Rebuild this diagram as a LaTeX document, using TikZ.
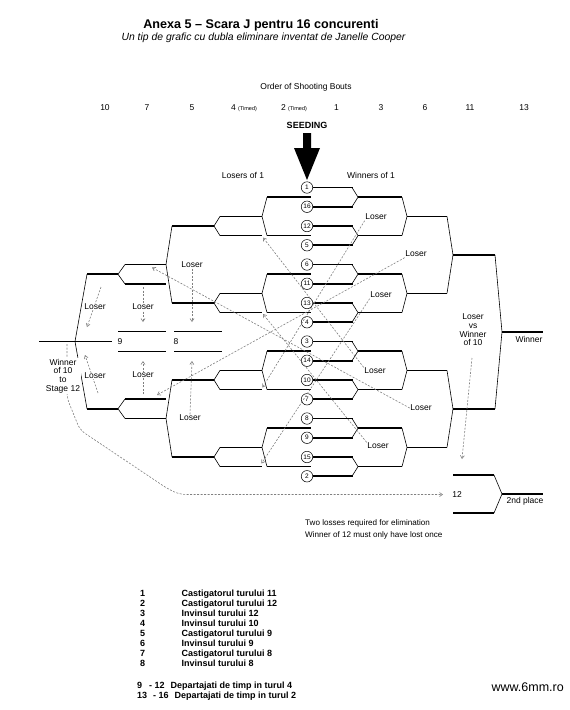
\documentclass[tikz,border=0pt]{standalone}
\usepackage{fontspec}
\setmainfont{Liberation Sans}
\usetikzlibrary{arrows.meta,calc}
\begin{document}
\begin{tikzpicture}[x=1pt,y=-1pt,
  hl/.style={line width=1.7pt},
  cn/.style={line width=0.6pt},
  ls/.style={draw=black!50, dash pattern=on 2pt off 1.5pt, line width=0.6pt, -{Straight Barb[length=3pt,width=4pt]}},
  lbl/.style={font=\fontsize{8.5}{8.7}\selectfont, inner sep=0.5pt},
  lblw/.style={lbl, fill=white, align=center},
  seed/.style={circle, draw, line width=0.5pt, minimum size=11.5pt, inner sep=0pt, fill=white, font=\fontsize{6.5}{7}\selectfont},
  key/.style={font=\fontsize{9}{9.5}\selectfont\bfseries, anchor=base west, inner sep=0pt},
  ]
\fill[white] (0,0) rectangle (570,710);
\useasboundingbox (0,0) rectangle (570,710);

% titles
\node[font=\fontsize{12.6}{14}\selectfont\bfseries] (title) at (261,25) {Anexa 5 -- Scara J pentru 16 concurenti};
\node[font=\fontsize{10.4}{12}\selectfont\itshape] (subtitle) at (263.5,38) {Un tip de grafic cu dubla eliminare inventat de Janelle Cooper};
\node[lbl] (order) at (306,87) {Order of Shooting Bouts};
\node[lbl] (h10) at (105,108) {10};
\node[lbl] (h7) at (147,108) {7};
\node[lbl] (h5) at (192,108) {5};
\node[lbl] (h4) at (244,108) {4 {\fontsize{5.5}{6}\selectfont(Timed)}};
\node[lbl] (h2) at (294,108) {2 {\fontsize{5.5}{6}\selectfont(Timed)}};
\node[lbl] (h1) at (336.5,108) {1};
\node[lbl] (h3) at (381,108) {3};
\node[lbl] (h6) at (425,108) {6};
\node[lbl] (h11) at (470,108) {11};
\node[lbl] (h13) at (524,108) {13};
\node[font=\fontsize{9}{10}\selectfont\bfseries] (seeding) at (307,125) {SEEDING};
\fill (303,133) -- (311,133) -- (311,148) -- (320,148) -- (307,180) -- (294,148) -- (303,148) -- cycle;
\node[lbl] (losers1) at (243,175) {Losers of 1};
\node[lbl] (winners1) at (371,175) {Winners of 1};

% seeds
\foreach \n [count=\i from 0] in {1,16,12,5,6,11,13,4,3,14,10,7,8,9,15,2}{
  \pgfmathsetmacro\yy{187.5+19.25*\i}
  \node[seed] (s\n) at (307,\yy) {\n};
  \draw[hl] (s\n.east) -- ++(39.5,0);
}
% bout 1 -> 3 (right) and bout 2 lines (left)
\foreach \k in {0,...,7}{
  \pgfmathsetmacro\ya{187.5+38.5*\k}
  \pgfmathsetmacro\yb{\ya+19.25}
  \pgfmathsetmacro\ym{\ya+9.625}
  \draw[cn] (352,\ya) -- (358,\ym) -- (352,\yb);
  \draw[hl] (358,\ym) -- (402,\ym);
  \draw[hl] (267,\ym) -- (311,\ym);
}
% bout 3 -> 6 (right), bout 2 -> 4 -> 5 (left)
\foreach \j in {0,...,3}{
  \pgfmathsetmacro\ya{197.125+77*\j}
  \pgfmathsetmacro\yb{\ya+38.5}
  \pgfmathsetmacro\ym{\ya+19.25}
  \pgfmathsetmacro\yq{(\ym+\yb)/2}
  \draw[cn] (402,\ya) -- (407,\ym) -- (402,\yb);
  \draw[hl] (407,\ym) -- (447,\ym);
  \draw[cn] (267,\ya) -- (262,\ym) -- (267,\yb);
  \draw[hl] (220,\ym) -- (262,\ym);
  \draw[hl] (220,\yb) -- (262,\yb);
  \draw[cn] (220,\ym) -- (214,\yq) -- (220,\yb);
  \draw[hl] (172,\yq) -- (214,\yq);
}
% bout 6 -> 11
\foreach \j in {0,1}{
  \pgfmathsetmacro\ya{216.375+154*\j}
  \pgfmathsetmacro\yb{\ya+77}
  \pgfmathsetmacro\ym{\ya+38.5}
  \draw[cn] (447,\ya) -- (453,\ym) -- (447,\yb);
  \draw[hl] (453,\ym) -- (495,\ym);
}
\draw[cn] (495,254.875) -- (502,331.875) -- (495,408.875);
\draw[hl] (502,331.875) -- (543,331.875);
\node[lbl] (winner) at (529,339.5) {Winner};

% bout 5 -> 7 -> 10 (left)
\draw[cn] (172,226) -- (166,264.5) -- (172,303);
\draw[cn] (172,380) -- (166,418.5) -- (172,457);
\draw[hl] (125,264.5) -- (166,264.5);
\draw[hl] (125,284) -- (166,284);
\draw[cn] (125,264.5) -- (118,274.25) -- (125,284);
\draw[hl] (125,399) -- (166,399);
\draw[hl] (125,418.5) -- (166,418.5);
\draw[cn] (125,399) -- (118,408.75) -- (125,418.5);
\draw[hl] (87,274.25) -- (118,274.25);
\draw[hl] (87,408.75) -- (118,408.75);
\draw[cn] (87,274.25) -- (75,341.5) -- (87,408.75);
\draw[hl] (39,341.5) -- (112,341.5);

% bouts 9 and 8
\draw[hl] (118,331.5) -- (166,331.5);
\draw[hl] (118,351.5) -- (166,351.5);
\node[lbl, anchor=west] (n9) at (117,341.5) {9};
\draw[hl] (174,331.5) -- (222,331.5);
\draw[hl] (174,351.5) -- (222,351.5);
\node[lbl, anchor=west] (n8) at (173,341.5) {8};

% bout 12
\draw[hl] (453,475) -- (494,475);
\draw[hl] (453,513) -- (494,513);
\draw[cn] (494,475) -- (502,494) -- (494,513);
\draw[hl] (502,494) -- (543,494);
\node[lbl] (n12) at (457,494.5) {12};
\node[lbl] (second) at (525,501) {2nd place};

% loser labels (right)
\node[lbl] (lA) at (376,217) {Loser};
\node[lbl] (lB) at (381,295) {Loser};
\node[lbl] (lC) at (375,371) {Loser};
\node[lbl] (lD) at (378,446) {Loser};
\node[lbl] (lE) at (416,254) {Loser};
\node[lbl] (lF) at (421,408) {Loser};
\coordinate (t1) at (263,237.5);
\coordinate (t2) at (263,314);
\coordinate (t3) at (262.5,387.5);
\coordinate (t4) at (261.5,463.5);
\coordinate (t5) at (152,267.5);
\coordinate (t6) at (157,395);
\draw[ls] (lA.south west) -- (t3);
\draw[ls] (lB.south west) -- (t4);
\draw[ls] (lC.north west) -- (t1);
\draw[ls] (lD.north west) -- (t2);
\draw[ls] (lE.south west) -- (t6);
\draw[ls] (lF.west) -- (t5);

% loser labels (left)
\node[lbl] (lG) at (192,265) {Loser};
\coordinate (tG) at (192,322);
\draw[ls] (lG.south) -- (tG);
\node[lbl] (lH) at (190,418) {Loser};
\coordinate (tH) at (192,361);
\draw[ls] (lH.north) -- (tH);
\coordinate (sI) at (143,287);
\coordinate (tI) at (143,322);
\draw[ls] (sI) -- (tI);
\node[lblw] (lI) at (143,307) {Loser};
\coordinate (sJ) at (143,394);
\coordinate (tJ) at (143,361);
\draw[ls] (sJ) -- (tJ);
\node[lblw] (lJ) at (143,375) {Loser};
\coordinate (sK) at (101,287);
\coordinate (tK) at (87,327);
\draw[ls] (sK) -- (tK);
\node[lblw] (lK) at (95,307) {Loser};
\coordinate (sL) at (98,393);
\coordinate (tL) at (85,355);
\draw[ls] (sL) -- (tL);
\node[lblw] (lL) at (95,376) {Loser};

% winner of 10 path
\coordinate (sW) at (67,344);
\coordinate (tW) at (443,494.5);
\draw[ls, rounded corners=6pt] (sW) -- (67,398) -- (80,430) -- (168,489) -- (180,494.5) -- (tW);
\node[lblw] (lW) at (63,376) {Winner\\of 10\\to\\Stage 12};

% loser vs winner of 10
\node[lbl, align=center] (lV) at (473,330) {Loser\\vs\\Winner\\of 10};
\coordinate (sV) at (472,358);
\coordinate (tV) at (462,459);
\draw[ls] (sV) -- (tV);

% notes
\node[font=\fontsize{8.1}{11.5}\selectfont, inner sep=0pt, anchor=west, align=left] (note) at (305,529.5) {Two losses required for elimination\\Winner of 12 must only have lost once};

% legend
\foreach \a/\b [count=\i from 0] in {1/Castigatorul turului 11, 2/Castigatorul turului 12, 3/Invinsul turului 12, 4/Invinsul turului 10, 5/Castigatorul turului 9, 6/Invinsul turului 9, 7/Castigatorul turului 8, 8/Invinsul turului 8}{
  \node[key] (kn\a) at (140,596.5+10*\i) {\a};
  \node[key] (kt\a) at (181.5,596.5+10*\i) {\b};
}
\node[key] (kr1) at (137,688.5) {9\hspace{7pt}- 12\hspace{6pt}Departajati de timp in turul 4};
\node[key] (kr2) at (137,698.5) {13\hspace{6pt}- 16\hspace{6pt}Departajati de timp in turul 2};
\node[font=\fontsize{12.5}{13}\selectfont, anchor=east, inner sep=0pt] (www) at (564,687) {www.6mm.ro};
\end{tikzpicture}
\end{document}
